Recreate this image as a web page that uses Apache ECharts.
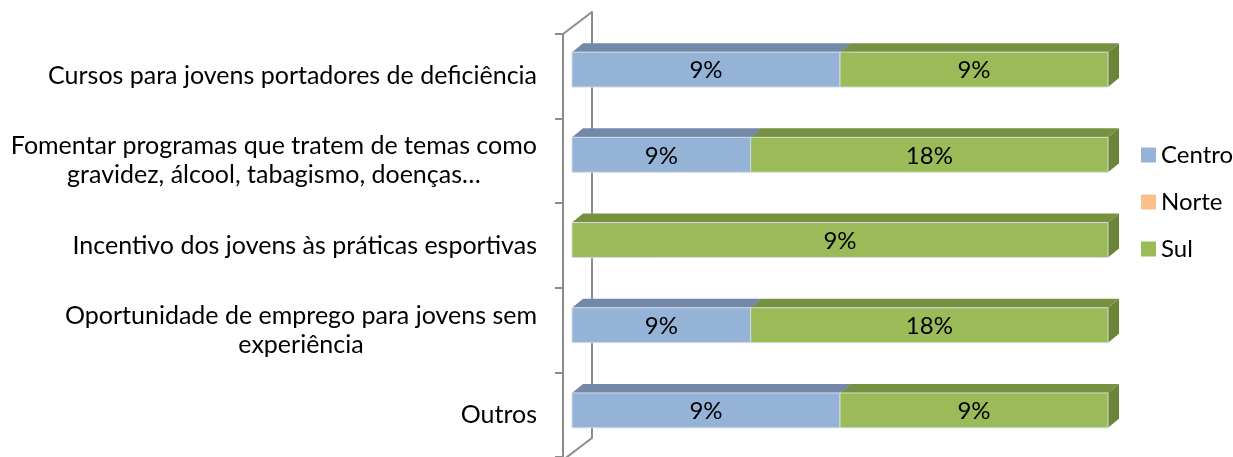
<!DOCTYPE html>
<html>
<head>
<meta charset="utf-8">
<script src="https://cdn.jsdelivr.net/npm/echarts@6/dist/echarts.min.js"></script>
<style>
  html, body { margin: 0; padding: 0; background: #ffffff; }
  #chart { width: 1233px; height: 457px; }
</style>
</head>
<body>
<div id="chart"></div>
<script>
var categories = [
  'Cursos para jovens portadores de deficiência',
  'Fomentar programas que tratem de temas como\ngravidez, álcool, tabagismo, doenças…',
  'Incentivo dos jovens às práticas esportivas',
  'Oportunidade de emprego para jovens sem\nexperiência',
  'Outros'
];
var seriesNames = ['Centro', 'Norte', 'Sul'];
var centro = [9, 9, 0, 9, 9];
var norte = [0, 0, 0, 0, 0];
var sul = [9, 18, 9, 18, 9];

var FONT = 'Lato';
var colors = {
  Centro: { front: '#95b3d7', top: '#7389aa', side: '#6e86a6' },
  Norte: { front: '#fabf8f', top: '#c99870', side: '#c08f68' },
  Sul: { front: '#9bbb59', top: '#76913f', side: '#6b8538' }
};

// 100% stacked: each segment is [start share, end share, row, raw value]
var allValues = [centro, norte, sul];
function buildSegments(idx) {
  return categories.map(function (c, row) {
    var total = 0, before = 0;
    allValues.forEach(function (arr, k) {
      total += arr[row];
      if (k < idx) before += arr[row];
    });
    var v = allValues[idx][row];
    return [before / total, (before + v) / total, row, v];
  });
}

var DX = 11, DY = -9;

function renderBar(params, api) {
  var start = api.value(0), end = api.value(1), row = api.value(2), raw = api.value(3);
  if (!(end > start)) return;
  var p0 = api.coord([start, row]);
  var p1 = api.coord([end, row]);
  var h = api.size([0, 1])[1] * 0.41;
  var x0 = p0[0], x1 = p1[0], yc = p0[1];
  var top = yc - h / 2, bot = yc + h / 2;
  var c = colors[seriesNames[params.seriesIndex]];
  return {
    type: 'group',
    children: [
      {
        type: 'polygon',
        shape: { points: [[x0, top], [x0 + DX, top + DY], [x1 + DX, top + DY], [x1, top]] },
        style: { fill: c.top }
      },
      {
        type: 'polygon',
        shape: { points: [[x1, top], [x1 + DX, top + DY], [x1 + DX, bot + DY], [x1, bot]] },
        style: { fill: c.side }
      },
      {
        type: 'rect',
        shape: { x: x0, y: top, width: x1 - x0, height: h },
        style: { fill: c.front, stroke: '#d6dbe0', lineWidth: 1 }
      },
      {
        type: 'text',
        style: {
          text: raw + '%', x: (x0 + x1) / 2, y: yc + 1,
          align: 'center', verticalAlign: 'middle',
          fill: '#000', font: '24px ' + FONT
        }
      }
    ]
  };
}

var chart = echarts.init(document.getElementById('chart'));

var option = {
  animation: false,
  textStyle: { fontFamily: FONT },
  legend: {
    orient: 'vertical',
    left: 1136,
    top: 138,
    itemWidth: 15,
    itemHeight: 15,
    itemGap: 23,
    icon: 'rect',
    data: seriesNames,
    textStyle: { fontSize: 24, lineHeight: 22, color: '#000', fontFamily: FONT }
  },
  grid: [
    { left: 572, right: 125, top: 27, height: 426 },
    { left: 563, right: 125, top: 34, height: 426 },
    { left: 592, right: 125, top: 12, height: 426 }
  ],
  xAxis: [
    { gridIndex: 0, type: 'value', min: 0, max: 1, show: false },
    { gridIndex: 1, type: 'value', min: 0, max: 1, show: false },
    { gridIndex: 2, type: 'value', min: 0, max: 1, show: false }
  ],
  yAxis: [
    { gridIndex: 0, type: 'category', data: categories, inverse: true, show: false },
    {
      gridIndex: 1, type: 'category', data: categories, inverse: true,
      axisLine: { show: true, lineStyle: { color: '#8c8c8c', width: 2 } },
      axisTick: { show: true, length: 8, lineStyle: { color: '#8c8c8c', width: 2 } },
      axisLabel: {
        margin: 26,
        formatter: function (v) {
          return v.split('\n').map(function (s) { return '{c|' + s + '}'; }).join('\n');
        },
        rich: { c: { align: 'center', fontSize: 25, lineHeight: 29, color: '#000', fontFamily: FONT } }
      }
    },
    {
      gridIndex: 2, type: 'category', data: categories, inverse: true,
      axisLine: { show: true, lineStyle: { color: '#8c8c8c', width: 2 } },
      axisTick: { show: false }, axisLabel: { show: false }
    }
  ],
  graphic: [
    { type: 'line', z: 0, shape: { x1: 563, y1: 34, x2: 592, y2: 12 }, style: { stroke: '#8c8c8c', lineWidth: 2 } },
    { type: 'line', z: 0, shape: { x1: 592, y1: 438, x2: 563, y2: 460 }, style: { stroke: '#8c8c8c', lineWidth: 2 } }
  ],
  series: seriesNames.map(function (name, idx) {
    return {
      name: name,
      type: 'custom',
      xAxisIndex: 0,
      yAxisIndex: 0,
      itemStyle: { color: colors[name].front },
      renderItem: renderBar,
      encode: { x: [0, 1], y: 2 },
      data: buildSegments(idx)
    };
  })
};

chart.setOption(option);
window.onresize = function () { chart.resize(); };
</script>
</body>
</html>
